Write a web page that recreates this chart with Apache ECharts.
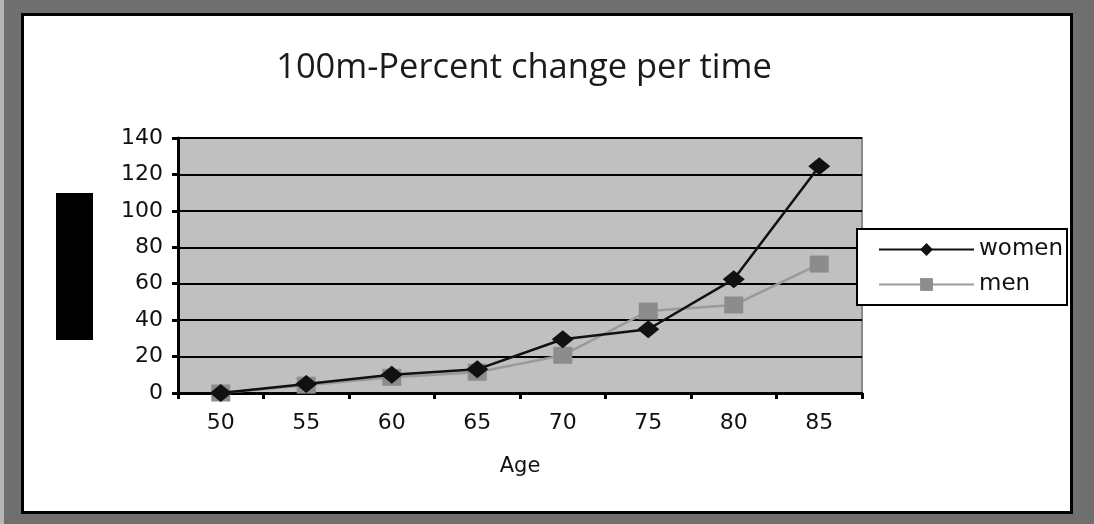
<!DOCTYPE html>
<html>
<head>
<meta charset="utf-8">
<script src="https://cdn.jsdelivr.net/npm/echarts@6/dist/echarts.min.js"></script>
<style>
html,body{margin:0;padding:0;background:#6f6f6f;}
#chart{width:1094px;height:524px;}
</style>
</head>
<body>
<div id="chart"></div>
<script>
var ages = ['50', '55', '60', '65', '70', '75', '80', '85'];
var women = [0, 5, 10, 13, 29.5, 35, 62.5, 124.5];
var men = [0, 4.3, 8.6, 11.4, 20.7, 45, 48.3, 70.8];
var yTicks = { min: 0, max: 140, interval: 20 };

var chart = echarts.init(document.getElementById('chart'));
chart.setOption({
  backgroundColor: '#6f6f6f',
  animation: false,
  graphic: [
    { type: 'rect', z: -10, shape: { x: 0, y: 0, width: 4, height: 524 }, style: { fill: '#b5b5b5' } },
    { type: 'rect', z: -5, shape: { x: 22.5, y: 14.5, width: 1049, height: 498 }, style: { fill: '#ffffff', stroke: '#000000', lineWidth: 3 } },
    { type: 'rect', z: 5, shape: { x: 56, y: 193, width: 37, height: 147 }, style: { fill: '#000000' } }
  ],
  title: {
    text: '100m-Percent change per time',
    left: 519, top: 46, textAlign: 'center',
    textStyle: { fontFamily: 'Open Sans', fontWeight: 'normal', fontSize: 34.5, color: '#1a1a1a' }
  },
  legend: {
    orient: 'vertical',
    left: 857, top: 229,
    backgroundColor: '#ffffff',
    borderColor: '#000000', borderWidth: 2,
    padding: [9, 4, 9, 21],
    itemWidth: 95, itemHeight: 16, itemGap: 12,
    textStyle: { fontFamily: 'DejaVu Sans', fontSize: 23, color: '#111' },
    data: ['women', 'men']
  },
  grid: {
    left: 178, top: 138, right: 232, bottom: 131,
    show: true, backgroundColor: '#c0c0c0', borderColor: '#8a8a8a', borderWidth: 2
  },
  xAxis: {
    type: 'category', data: ages, boundaryGap: true,
    name: 'Age', nameLocation: 'middle', nameGap: 63,
    nameTextStyle: { fontFamily: 'DejaVu Sans', fontSize: 21, color: '#111' },
    axisLine: { lineStyle: { color: '#000', width: 3 } },
    axisTick: { show: true, length: 6, lineStyle: { color: '#000', width: 3 } },
    axisLabel: { margin: 19, fontFamily: 'DejaVu Sans', fontSize: 22, color: '#111' },
    splitLine: { show: false }
  },
  yAxis: {
    type: 'value', min: yTicks.min, max: yTicks.max, interval: yTicks.interval,
    axisLine: { show: true, lineStyle: { color: '#000', width: 3 } },
    axisTick: { show: true, length: 6, lineStyle: { color: '#000', width: 3 } },
    axisLabel: { margin: 15, fontFamily: 'DejaVu Sans', fontSize: 22, color: '#111' },
    splitLine: { show: true, lineStyle: { color: '#000', width: 2 } }
  },
  series: [
    {
      name: 'women', type: 'line', data: women,
      symbol: 'diamond', symbolSize: [22, 18],
      lineStyle: { color: '#111', width: 2.5 },
      itemStyle: { color: '#111' },
      z: 3
    },
    {
      name: 'men', type: 'line', data: men,
      symbol: 'rect', symbolSize: [19, 17],
      lineStyle: { color: '#9a9a9a', width: 2.5 },
      itemStyle: { color: '#8c8c8c' },
      z: 2
    }
  ]
});
</script>
</body>
</html>
